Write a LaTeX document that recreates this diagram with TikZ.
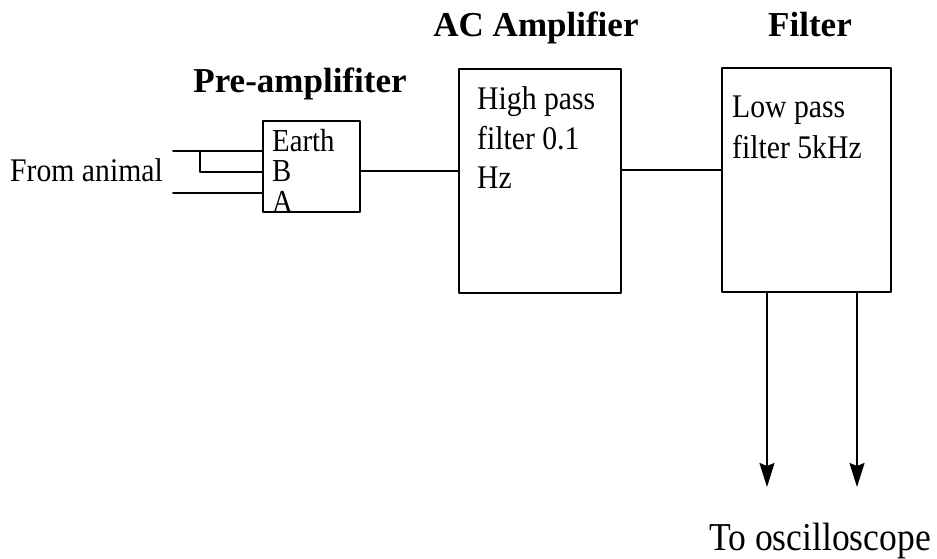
\documentclass[tikz,border=0pt]{standalone}
\usepackage{fontspec}
\setmainfont{Liberation Serif}
\newfontfamily\narrowserif[FakeStretch=0.9]{Liberation Serif}
\usepackage{tikz}
\usetikzlibrary{arrows.meta, positioning}

\tikzset{
  block/.style={draw, line width=2pt, inner sep=0pt},
  wire/.style={line width=2pt},
  blocktext/.style={anchor=base west, align=left, inner sep=0pt},
  blocktitle/.style={anchor=base, inner sep=0pt, font=\bfseries\fontsize{35}{40}\selectfont},
}

\begin{document}
\begin{tikzpicture}[x=1pt, y=-1pt, line join=round, line cap=round, >={Stealth[length=24pt, width=15pt, inset=3pt]}]
    \useasboundingbox (0,0) rectangle (937,559);

    % Khoi chinh
    \node[block, minimum width=97pt, minimum height=91pt] (pre) at (311,166.5) {};
    \node[block, minimum width=162pt, minimum height=224pt] (ac) at (540,181) {};
    \node[block, minimum width=169pt, minimum height=224pt] (filter) at (806.5,180) {};

    % Tieu de
    \node[blocktitle] (pretitle) at (300,93) {Pre-amplifiter};
    \node[blocktitle] (actitle) at (536,37) {AC Amplifier};
    \node[blocktitle] (filtertitle) at (810,37) {Filter};

    % Chu trong khoi (base = dong cuoi)
    \node[blocktext, font=\narrowserif\fontsize{32}{30.5}\selectfont] (pretext) at (272,212) {Earth\\B\\A};
    \node[blocktext, font=\narrowserif\fontsize{33}{39.5}\selectfont] (actext) at (477,189) {High pass\\filter 0.1\\Hz};
    \node[blocktext, font=\narrowserif\fontsize{33}{41}\selectfont] (filtertext) at (732,159) {Low pass\\filter 5kHz};

    % Day tu con vat
    \node[anchor=base west, inner sep=0pt, font=\narrowserif\fontsize{33}{36}\selectfont] (animal) at (10,182) {From animal};
    \coordinate (earthin) at (173,151);
    \coordinate (bsplit) at (200,151);
    \coordinate (bin) at (200,172);
    \coordinate (ain) at (173,193);
    \draw[wire] (earthin) -- (earthin -| pre.west);
    \draw[wire] (bsplit) -- (bin) -- (bin -| pre.west);
    \draw[wire] (ain) -- (ain -| pre.west);

    % Noi cac khoi
    \draw[wire] (pre.east |- 0,171) -- (ac.west |- 0,171);
    \draw[wire] (ac.east |- 0,170) -- (filter.west |- 0,170);

    % Ra dao dong ky
    \coordinate (scopea) at (767,487);
    \coordinate (scopeb) at (857,487);
    \draw[wire, ->] (scopea |- filter.south) -- (scopea);
    \draw[wire, ->] (scopeb |- filter.south) -- (scopeb);
    \node[anchor=base, inner sep=0pt, font=\narrowserif\fontsize{39.5}{44}\selectfont] (scope) at (820,550) {To oscilloscope};
\end{tikzpicture}
\end{document}
